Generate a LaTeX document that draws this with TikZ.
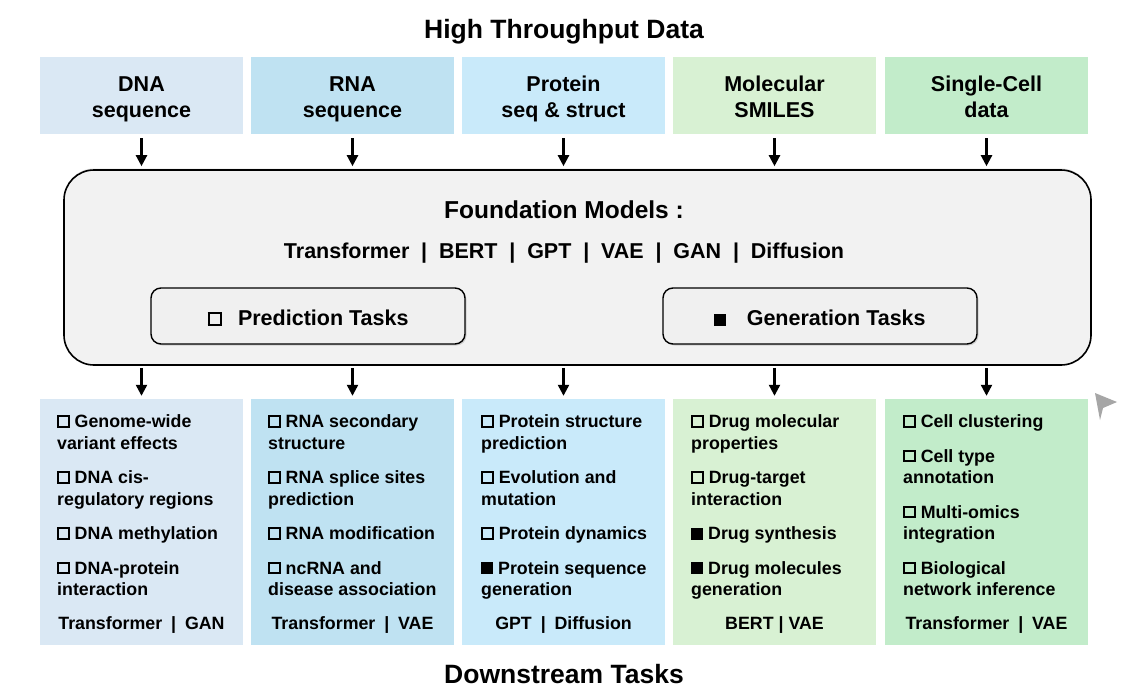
\documentclass[tikz,border=0pt]{standalone}
\usepackage{fontspec}
\setmainfont{Liberation Sans}
\usetikzlibrary{arrows.meta,shadows}
\definecolor{cA}{HTML}{DAE8F4}
\definecolor{cB}{HTML}{BFE2F2}
\definecolor{cC}{HTML}{C9EAFA}
\definecolor{cD}{HTML}{D8F1D3}
\definecolor{cE}{HTML}{C2ECCA}
\definecolor{fmfill}{HTML}{F2F2F2}
\definecolor{tkfill}{HTML}{F0F0F0}
\newcommand{\osq}{\raisebox{2pt}{\fboxsep=0pt\fboxrule=2pt\fbox{\rule{0pt}{8.6pt}\hspace{8.6pt}}}}
\newcommand{\fsq}{\rule{12pt}{12pt}}
\newcommand{\bsq}{\raisebox{2pt}{\fboxsep=0pt\fboxrule=2.3pt\fbox{\rule{0pt}{9.8pt}\hspace{9.8pt}}}}
\newcommand{\gbar}{\hspace{0.55em}\textbar\hspace{0.55em}}
\tikzset{
  topbox/.style={minimum width=203pt, minimum height=77pt, inner sep=0pt, align=center,
    font=\fontsize{21.5}{26}\selectfont\bfseries},
  botbox/.style={minimum width=203pt, minimum height=246pt, inner sep=0pt},
  items/.style={anchor=north west, inner sep=0pt, align=left,
    font=\fontsize{17.8}{21.5}\selectfont\bfseries},
  foot/.style={inner sep=0pt, font=\fontsize{17.8}{21.5}\selectfont\bfseries},
  title/.style={inner sep=0pt, font=\fontsize{26.5}{30}\selectfont\bfseries},
  fmbox/.style={draw=black, line width=1.6pt, fill=fmfill, rounded corners=30pt,
    minimum width=1027pt, minimum height=195pt,
    drop shadow={opacity=0.25, shadow xshift=0pt, shadow yshift=1.5pt}},
  taskbox/.style={draw=black, line width=1.4pt, fill=tkfill, rounded corners=10pt,
    minimum width=314pt, minimum height=56pt},
  tasktext/.style={inner sep=0pt, font=\fontsize{21.5}{26}\selectfont\bfseries},
  arr/.style={line width=2.3pt, -{Triangle[length=11pt,width=11pt]}},
}
\begin{document}
\begin{tikzpicture}[x=1pt,y=-1pt]
\useasboundingbox (0,0) rectangle (1122,691);
\fill[white] (0,0) rectangle (1122,691);

\node[title] (ht) at (564,32) {High Throughput Data};
\node[title] (ds) at (564,674) {Downstream Tasks};

% top boxes
\node[topbox, fill=cA] (d1) at (141.5,95.5) {};
\node[topbox, fill=cB] (d2) at (352.5,95.5) {};
\node[topbox, fill=cC] (d3) at (563.5,95.5) {};
\node[topbox, fill=cD] (d4) at (774.5,95.5) {};
\node[topbox, fill=cE] (d5) at (986.5,95.5) {};
\node[topbox, minimum height=0pt] (l1) at (141.5,99.5) {\strut DNA\\sequence\strut};
\node[topbox, minimum height=0pt] (l2) at (352.5,99.5) {\strut RNA\\sequence\strut};
\node[topbox, minimum height=0pt] (l3) at (563.5,99.5) {\strut Protein\\seq \& struct\strut};
\node[topbox, minimum height=0pt] (l4) at (774.5,99.5) {\strut Molecular\\SMILES\strut};
\node[topbox, minimum height=0pt] (l5) at (986.5,99.5) {\strut Single-Cell\\data\strut};

% foundation box
\node[fmbox] (fm) at (577.5,267.5) {};
\node[inner sep=0pt, font=\fontsize{24.5}{28}\selectfont\bfseries] (fmt) at (564,210) {Foundation Models :};
\node[inner sep=0pt, font=\fontsize{21.5}{26}\selectfont\bfseries] (fml) at (564,253)
  {Transformer\gbar BERT\gbar GPT\gbar VAE\gbar GAN\gbar Diffusion};
\node[taskbox, drop shadow={opacity=0.3, shadow xshift=1.5pt, shadow yshift=-1.5pt}] (pt) at (308,316) {};
\node[taskbox, drop shadow={opacity=0.3, shadow xshift=1.5pt, shadow yshift=-1.5pt}] (gt) at (820,316) {};
\node[tasktext] (ptt) at (308,318) {\bsq\hspace{0.75em}Prediction Tasks};
\node[tasktext] (gtt) at (820,318) {\fsq\hspace{0.95em}Generation Tasks};

% bottom boxes
\node[botbox, fill=cA] (b1) at (141.5,522) {};
\node[botbox, fill=cB] (b2) at (352.5,522) {};
\node[botbox, fill=cC] (b3) at (563.5,522) {};
\node[botbox, fill=cD] (b4) at (774.5,522) {};
\node[botbox, fill=cE] (b5) at (986.5,522) {};

% arrows
\foreach \i in {1,...,5}{
  \draw[arr, shorten <=4pt, shorten >=3pt] (d\i.south) -- (d\i.south |- fm.north);
  \draw[arr, shorten <=2pt, shorten >=3pt] (fm.south -| b\i.north) -- (b\i.north);
}

% items
\node[items] (i1) at (57,414.5) {\osq\ Genome-wide\\variant effects\\[13pt]
  \osq\ DNA cis-\\regulatory regions\\[13pt]
  \osq\ DNA methylation\\[13pt]
  \osq\ DNA-protein\\interaction};
\node[items] (i2) at (268,414.5) {\osq\ RNA secondary\\structure\\[13pt]
  \osq\ RNA splice sites\\prediction\\[13pt]
  \osq\ RNA modification\\[13pt]
  \osq\ ncRNA and\\disease association};
\node[items] (i3) at (481,414.5) {\osq\ Protein structure\\prediction\\[13pt]
  \osq\ Evolution and\\mutation\\[13pt]
  \osq\ Protein dynamics\\[13pt]
  \fsq\ Protein sequence\\generation};
\node[items] (i4) at (691,414.5) {\osq\ Drug molecular\\properties\\[13pt]
  \osq\ Drug-target\\interaction\\[13pt]
  \fsq\ Drug synthesis\\[13pt]
  \fsq\ Drug molecules\\generation};
\node[items] (i5) at (903,414.5) {\osq\ Cell clustering\\[13pt]
  \osq\ Cell type\\annotation\\[13pt]
  \osq\ Multi-omics\\integration\\[13pt]
  \osq\ Biological\\network inference};

\node[foot] (f1) at (141.5,625) {Transformer\hspace{0.5em}\textbar\hspace{0.5em}GAN};
\node[foot] (f2) at (352.5,625) {Transformer\hspace{0.5em}\textbar\hspace{0.5em}VAE};
\node[foot] (f3) at (563.5,625) {GPT\hspace{0.5em}\textbar\hspace{0.5em}Diffusion};
\node[foot] (f4) at (774.5,625) {BERT \textbar\ VAE};
\node[foot] (f5) at (986.5,625) {Transformer\hspace{0.5em}\textbar\hspace{0.5em}VAE};

% stray grey arrow tip
\fill[black!35] (1095,393) -- (1117,402) -- (1103,408) -- (1100,420) -- cycle;
\end{tikzpicture}
\end{document}
